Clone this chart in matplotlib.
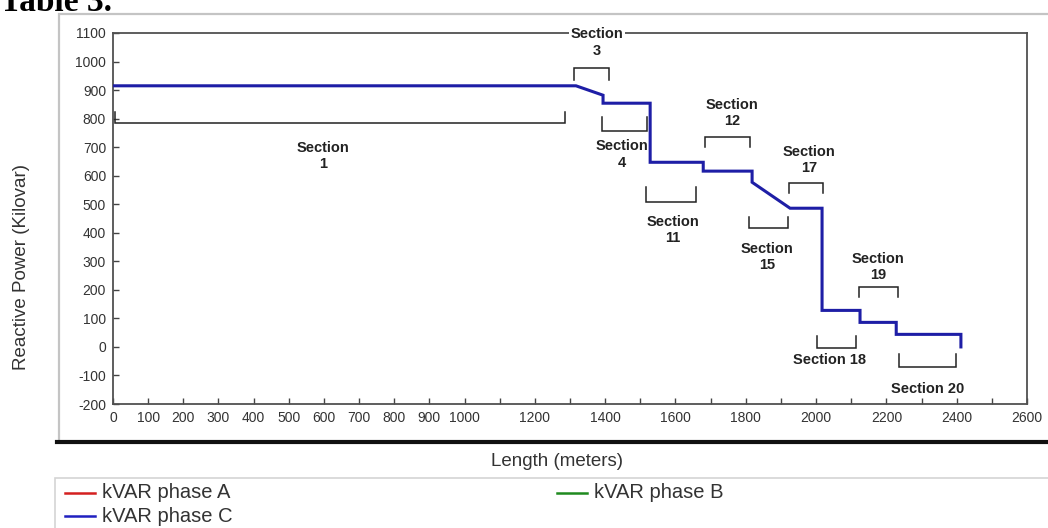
import matplotlib
matplotlib.use("Agg")
import matplotlib.pyplot as plt
from matplotlib.lines import Line2D
from matplotlib.patches import Rectangle

plt.rcParams['font.family'] = ['Liberation Sans', 'DejaVu Sans']
plt.rcParams['axes.unicode_minus'] = False

W, H = 1048, 528

# phase C reactive power profile along the feeder
length_m = [0, 1317, 1394, 1394, 1528, 1528, 1679, 1679, 1818, 1818, 1926,
            2017, 2017, 2125, 2125, 2228, 2228, 2412, 2412]
kvar_c = [915, 915, 882, 854, 854, 647, 647, 616, 616, 577, 486,
          486, 128, 128, 86, 86, 44, 44, 0]

# section brackets: span, level, tick length (sign = direction), label spot
sec_names = ["Section\n1", "Section\n3", "Section\n4", "Section\n11", "Section\n12",
             "Section\n15", "Section\n17", "Section 18", "Section\n19", "Section 20"]
sec_x0 = [5, 1312, 1391, 1516, 1684, 1809, 1923, 2003, 2122, 2236]
sec_x1 = [1286, 1411, 1519, 1659, 1812, 1920, 2020, 2114, 2233, 2398]
sec_y = [785, 977, 756, 507, 735, 416, 574, -5, 209, -72]
sec_tick = [38, -42, 49, 53, -35, 38, -35, 45, -35, 46]
sec_lx = [597, 1377, 1448, 1593, 1761, 1861, 1980, 2037, 2176, 2316]
sec_ly = [670, 1067, 674, 410, 821, 316, 656, -47, 281, -146]

x_labels = list(range(0, 1001, 100)) + list(range(1200, 2601, 200))
y_ticks = list(range(-200, 1101, 100))


def fx(px):
    return px / W


def fy(py):
    return 1 - py / H


fig = plt.figure(figsize=(W / 100, H / 100), dpi=100)

# outer chart frame with heavy bottom rule
fig.patches.append(Rectangle((fx(59), fy(442)), fx(1060 - 59), fy(14) - fy(442),
                             transform=fig.transFigure, facecolor='white',
                             edgecolor='#c4c4c4', lw=1.6, zorder=-2))
fig.lines.append(Line2D([fx(57), fx(1060)], [fy(442), fy(442)],
                        transform=fig.transFigure, color='#111111', lw=3,
                        zorder=-1))

# legend box
fig.patches.append(Rectangle((fx(55), fy(540)), fx(1070 - 55), fy(478) - fy(540),
                             transform=fig.transFigure, facecolor='white',
                             edgecolor='#d4d4d4', lw=1.2, zorder=-2))

ax = fig.add_axes([fx(113), fy(404), fx(1027 - 113), fy(33) - fy(404)])
ax.set_zorder(2)
ax.set_xlim(0, 2600)
ax.set_ylim(-200, 1100)

ax.plot(length_m, kvar_c, color='#1e1ea6', lw=2.2, solid_joinstyle='miter', zorder=4)

for name, x0, x1, y, t, lx, ly in zip(sec_names, sec_x0, sec_x1, sec_y,
                                      sec_tick, sec_lx, sec_ly):
    ax.plot([x0, x0, x1, x1], [y + t, y, y, y + t], color='#222222', lw=1.1,
            solid_joinstyle='miter', zorder=3)
    if name == "Section\n3":
        ax.text(lx, ly, name, ha='center', va='center', fontsize=10.5,
                fontweight='bold', color='#222222', clip_on=False, zorder=6,
                bbox=dict(facecolor='white', edgecolor='none', pad=1.5))
    else:
        ax.text(lx, ly, name, ha='center', va='center', fontsize=10.5,
                fontweight='bold', color='#222222', zorder=5)

ax.set_xticks(x_labels)
ax.set_xticks(range(0, 2601, 100), minor=True)
ax.set_yticks(y_ticks)
ax.tick_params(axis='both', which='both', direction='in', length=4, width=1,
               color='#444444', labelsize=10, labelcolor='#333333', pad=5)
for s in ax.spines.values():
    s.set_color('#505050')
    s.set_linewidth(1.3)

fig.text(fx(557), fy(462), "Length (meters)", ha='center', va='center',
         fontsize=13.5, color='#333333')
fig.text(fx(22), fy(267), "Reactive Power (Kilovar)", ha='center', va='center',
         rotation=90, fontsize=13.5, color='#333333')
fig.text(0.0, fy(11), "Table 3.", ha='left', va='baseline', fontsize=24,
         fontweight='bold', family=['Liberation Serif', 'DejaVu Serif'])

# legend entries
legend_items = [("kVAR phase A", '#d42020', 65, 493),
                ("kVAR phase B", '#1f8a1f', 557, 493),
                ("kVAR phase C", '#2020c0', 65, 516)]
for label, col, lx, ly in legend_items:
    fig.lines.append(Line2D([fx(lx), fx(lx + 30)], [fy(ly), fy(ly)],
                            transform=fig.transFigure, color=col, lw=1.8))
    fig.text(fx(lx + 37), fy(ly), label, ha='left', va='center',
             fontsize=14.5, color='#333333')

fig.savefig("out.png", dpi=100)
